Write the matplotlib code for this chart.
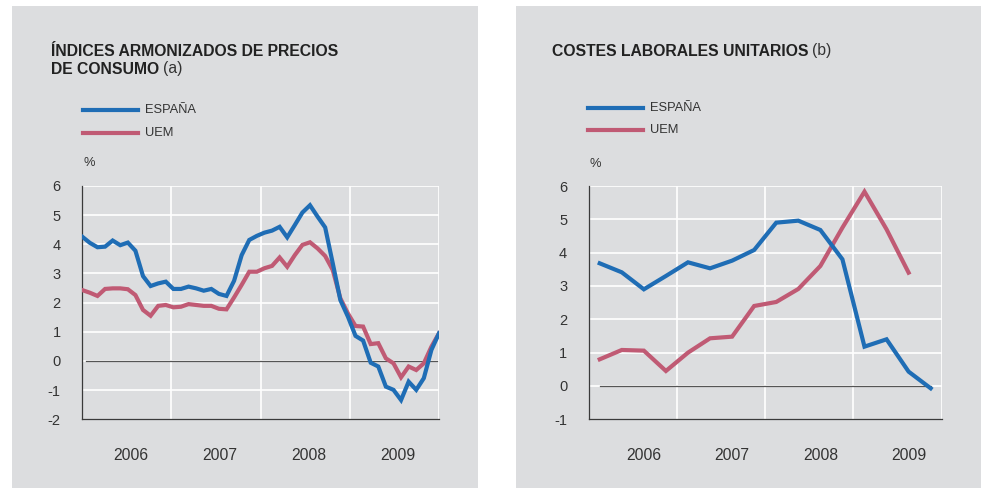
import numpy as np
import matplotlib
matplotlib.use("Agg")
import matplotlib.pyplot as plt
from matplotlib.patches import Rectangle

plt.rcParams['font.family'] = ['Liberation Sans', 'DejaVu Sans']

# ---------------- data ----------------
years = ["2006", "2007", "2008", "2009"]

# Left: monthly HICP, Jan 2006 - Dec 2009
ipc_espana = [4.26, 4.05, 3.90, 3.92, 4.13, 3.97, 4.06, 3.78, 2.91, 2.57, 2.66, 2.72,
              2.47, 2.47, 2.55, 2.49, 2.41, 2.47, 2.30, 2.23, 2.75, 3.63, 4.15, 4.29,
              4.40, 4.47, 4.60, 4.24, 4.66, 5.09, 5.34, 4.95, 4.58, 3.35, 2.09, 1.52,
              0.86, 0.70, -0.06, -0.19, -0.88, -0.99, -1.34, -0.71, -0.99, -0.59, 0.38, 0.95]
ipc_uem = [2.43, 2.34, 2.23, 2.47, 2.49, 2.49, 2.46, 2.26, 1.75, 1.55, 1.89, 1.92,
           1.84, 1.86, 1.95, 1.92, 1.89, 1.89, 1.79, 1.77, 2.18, 2.61, 3.06, 3.06,
           3.18, 3.26, 3.55, 3.23, 3.63, 3.98, 4.07, 3.86, 3.60, 3.12, 2.15, 1.63,
           1.20, 1.18, 0.58, 0.61, 0.09, -0.08, -0.56, -0.19, -0.31, -0.08, 0.49, 0.95]

# Right: quarterly unit labour costs, 2006Q1 - 2009Q4
clu_espana = [3.68, 3.41, 2.90, 3.30, 3.71, 3.53, 3.76, 4.08,
              4.90, 4.96, 4.68, 3.80, 1.18, 1.40, 0.43, -0.07]
clu_uem = [0.80, 1.08, 1.06, 0.45, 1.00, 1.43, 1.48, 2.40,
           2.52, 2.91, 3.60, 4.75, 5.83, 4.70, 3.40]

BLUE = "#1f6db5"
RED = "#c05a74"
BG = "#dcdddf"
TXT = "#333333"

fig = plt.figure(figsize=(9.81, 4.88), dpi=100)
W, H = 981, 488

def fx(px):
    return px / W

def fy(py):
    return 1 - py / H

# panel backgrounds
fig.patches.append(Rectangle((fx(12), 0), fx(478 - 12), fy(6), transform=fig.transFigure,
                             facecolor=BG, edgecolor='none', zorder=-10))
fig.patches.append(Rectangle((fx(516), 0), fx(981 - 516), fy(6), transform=fig.transFigure,
                             facecolor=BG, edgecolor='none', zorder=-10))


def style_axes(ax, ymin, ymax, label_shift):
    ax.set_facecolor('none')
    ax.set_xlim(2006, 2010)
    ax.set_ylim(ymin, ymax)
    ax.set_yticks(range(ymin, ymax + 1))
    ax.set_yticklabels([str(v) for v in range(ymin, ymax + 1)], fontsize=10.5, color=TXT)
    for v in range(ymin + 1, ymax + 1):
        ax.axhline(v, color='white', lw=1.2, zorder=1)
    for yr in range(2007, 2011):
        ax.axvline(yr, color='white', lw=1.2, zorder=1)
    ax.set_xticks([2006.5 + i + label_shift for i in range(4)])
    ax.set_xticklabels(years, fontsize=11.3, color=TXT)
    ax.tick_params(axis='both', length=0)
    ax.tick_params(axis='y', pad=15.5)
    ax.tick_params(axis='x', pad=21)
    for s in ['top', 'right']:
        ax.spines[s].set_visible(False)
    for s in ['left', 'bottom']:
        ax.spines[s].set_color('#3a3a3a')
        ax.spines[s].set_linewidth(0.9)


# ---------- left chart ----------
axL = fig.add_axes([fx(82.3), fy(419.3), fx(439 - 82.3), (419.3 - 186) / H])
style_axes(axL, -2, 6, 1 / 24)
xm = 2006 + np.arange(len(ipc_espana)) * 4 / (len(ipc_espana) - 1)
axL.plot([xm[0] + 0.04, xm[-1] - 0.02], [0, 0], color='#555555', lw=0.9, zorder=2)
axL.plot(xm, ipc_uem, color=RED, lw=3, zorder=3, solid_joinstyle='miter')
axL.plot(xm, ipc_espana, color=BLUE, lw=3, zorder=4, solid_joinstyle='miter')

# ---------- right chart ----------
axR = fig.add_axes([fx(588.7), fy(419.3), fx(941.7 - 588.7), (419.3 - 186) / H])
style_axes(axR, -1, 6, 1 / 8)
xq_e = 2006.125 + 0.25 * np.arange(len(clu_espana))
xq_u = 2006.125 + 0.25 * np.arange(len(clu_uem))
axR.plot([xq_e[0], xq_e[-1]], [0, 0], color='#555555', lw=0.9, zorder=2)
axR.plot(xq_e, clu_espana, color=BLUE, lw=3, zorder=4, solid_joinstyle='miter')
axR.plot(xq_u, clu_uem, color=RED, lw=3, zorder=3, solid_joinstyle='miter')

# ---------- titles ----------
TFS = 11.3
fig.text(fx(51), fy(51), "ÍNDICES ARMONIZADOS DE PRECIOS", fontsize=TFS, fontweight='bold',
         color='#222222', va='center', ha='left')
t1 = fig.text(fx(51), fy(69), "DE CONSUMO", fontsize=TFS, fontweight='bold',
              color='#222222', va='center', ha='left')
fig.canvas.draw()
bb = t1.get_window_extent()
fig.text(bb.x1 / W + fx(4), fy(69), "(a)", fontsize=TFS, color='#333333', va='center', ha='left')

t2 = fig.text(fx(552), fy(51), "COSTES LABORALES UNITARIOS", fontsize=TFS, fontweight='bold',
              color='#222222', va='center', ha='left')
fig.canvas.draw()
bb2 = t2.get_window_extent()
fig.text(bb2.x1 / W + fx(4), fy(51), "(b)", fontsize=TFS, color='#333333', va='center', ha='left')

# ---------- legends ----------
def legend(x0, ys, labels, colors):
    for y, lab, c in zip(ys, labels, colors):
        fig.add_artist(plt.Line2D([fx(x0), fx(x0 + 55)], [fy(y), fy(y)], color=c, lw=3,
                                  transform=fig.transFigure))
        fig.text(fx(x0 + 62), fy(y), lab, fontsize=9.3, color=TXT, va='center', ha='left')

legend(83, [110, 133], ["ESPAÑA", "UEM"], [BLUE, RED])
legend(588, [108, 130], ["ESPAÑA", "UEM"], [BLUE, RED])

fig.text(fx(83), fy(163), "%", fontsize=9.3, color=TXT, va='center', ha='left')
fig.text(fx(590), fy(164), "%", fontsize=9.3, color=TXT, va='center', ha='left')

fig.savefig("out.png", dpi=100, facecolor='white')
